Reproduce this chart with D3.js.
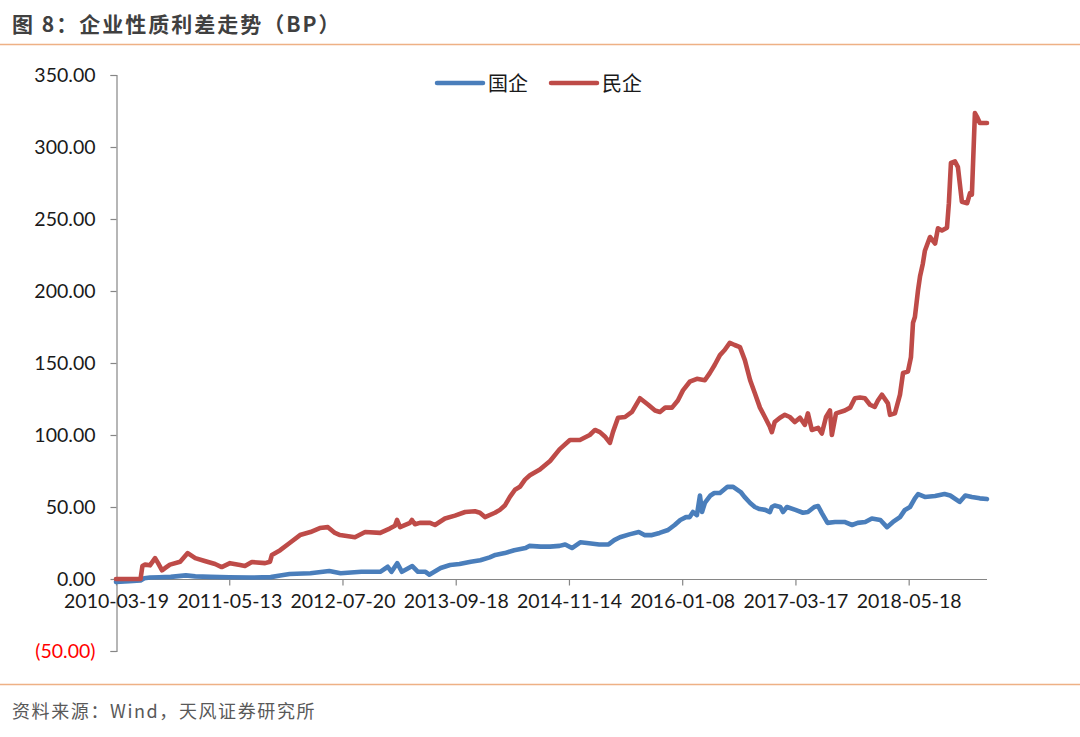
<!DOCTYPE html>
<html>
<head>
<meta charset="utf-8">
<script src="https://cdn.jsdelivr.net/npm/d3@7/dist/d3.min.js"></script>
<style>
  html, body { margin: 0; padding: 0; background: #fff; }
  svg { display: block; }
</style>
</head>
<body>
<svg id="chart" width="1080" height="737"></svg>
<script>
// ---- Data (week index along category axis, spread in BP) ----
const tickLabels = ["2010-03-19","2011-05-13","2012-07-20","2013-09-18","2014-11-14","2016-01-08","2017-03-17","2018-05-18"];
const tickWeeks  = [0, 60, 120, 180, 240, 300, 360, 420];
const lastWeek = 461.5;

const seriesNames = ["国企", "民企"];

const soeWeeks = [0,7,13,15,18,23,29,37,42,50,60,71,82,87,92,103,113,119,130,140,144,146,149,151.5,157,160,164,166,172,177,182,188,193,198,201,206,211,217,219,225,230,235,238,241.6,246,249.5,256,261,264,267,272,277,280,284,288,292.5,296,299,302,304,305.7,307.8,309.4,310.5,312,315,317,320,324,327,331,333,336,338.5,341,344,346.5,347.5,349,352,353.4,355.5,360,364,366.6,370,372,374,377,381,386,390,393,397,400.5,405,408.5,411.7,415.4,418,420.7,423.3,425,428.6,434,439,442,447,450,453.5,457.7,461.5];
const soeValues = [-2,-1.5,-1,0.5,1,1.2,1.5,2.5,1.8,1.5,1.2,1,1.3,2.5,3.5,4,5.5,4,5,5,8.5,5,11,5,9,5,5,3,7.6,9.7,10.4,12,13,15,16.7,18,20,21.5,23,22.5,22.5,23,24,21.5,25.5,25,24,24,27,29,31,32.6,30.5,30.5,32,34,37.5,41,43,43,46.5,44.4,58,46.5,52.8,58,59.7,59.7,64,64,60.4,57,52.8,50,48.6,48,46.5,50,51,50,46.5,50,48,46,46.5,50,50.7,45.8,39,39.6,39.6,37.5,39,39.6,42,41,36,39.6,43,48,50,56,59,57,57.6,59,58,53.5,58,57,56,55.5];

const poeWeeks = [0,13,14,15.4,18,20.7,22.3,24.4,26.5,28.6,34,38,42,47,52.5,56,60.4,65.7,68.3,72,79,81.6,82.6,87,92,97.5,103,108,112.3,116,118.7,126.6,132,140,145,147.8,148.9,150.5,155.8,156.8,158.4,161,166.4,169,174.3,179.6,185,190.2,192.8,195.5,200.8,203.4,206,208.7,211.4,214,216.7,219.3,224.6,230,235,240.5,245.8,251,253.8,256.4,259,261.7,263.3,266,269.7,273.4,277.6,282,285.6,288.2,291,294.6,297.7,300.4,304,307.8,312,314.6,317.2,320,322.5,325.2,327.8,330.6,333.2,336,338.5,341.2,343.8,346.5,347.5,349,351.8,354.4,357,359.7,362.4,365,366.6,368.7,372,374,376.2,378.3,379.3,381.5,386.2,389,391.5,394.2,396.8,399.5,402,403.7,405.8,409,410.1,412.7,415.4,417,419.6,421.2,422.3,423.3,425,426,427.5,428.6,431.3,434,435.5,437.6,440.3,441.3,442.4,444.5,446.1,448.2,451,452.5,453.5,455.1,456.2,457.7,461.5];
const poeValues = [0,0,9,10,9.5,14.5,11,6,8,10,12,18,14.5,12.5,10.4,8.3,11,9.7,9,11.8,11,12,16.7,20,25,30.5,32.6,35.4,36,32,30.5,29,32.6,32,35,37,41,36,39,41,38,39,39,37.5,42,44,46.5,47,46,43,46,48,51,57,62,64,69,72,76,82,90,96.5,96.5,100,103.5,102,99,94.5,102,112,112.5,116,125.5,121,117,116,119,119,124,131,137,139,138,143,148.6,155.5,159,164,162.5,161,152,138,129,119,112.5,105.5,102,109,112,114,112.5,109,112,107,115,103.5,105,101,112.5,117,100,115,117,119,125.5,126,125.5,121,119.5,124,128,122,114,115,128,143,144,154,178,182,201,210,219,228,237.5,233,243.5,242,244,261,289,290,286,262,261,268,267,323.6,321,316.7,316.7];

const yTicks = [-50, 0, 50, 100, 150, 200, 250, 300, 350];
const colors = ["#4a7ebb", "#be4b48"];

// ---- Layout ----
const svg = d3.select("#chart");
const x = d3.scaleLinear().domain([0, lastWeek]).range([116, 987]);
const y = d3.scaleLinear().domain([-50, 350]).range([651, 75]);
const axisColor = "#868686";
const tickFont = "Lato, 'Open Sans', sans-serif";

// Title
svg.append("text")
  .attr("x", 12).attr("y", 32)
  .attr("font-family", "'Noto Sans CJK SC', sans-serif")
  .attr("font-weight", "bold").attr("font-size", 21)
  .attr("letter-spacing", 2)
  .attr("fill", "#404040")
  .text("图 8：企业性质利差走势（BP）");
svg.append("line").attr("x1", 0).attr("x2", 1080).attr("y1", 44.5).attr("y2", 44.5)
  .attr("stroke", "#eeb185").attr("stroke-width", 1.5);

// Footer
svg.append("line").attr("x1", 0).attr("x2", 1080).attr("y1", 684.5).attr("y2", 684.5)
  .attr("stroke", "#eeb185").attr("stroke-width", 1.5);
svg.append("text")
  .attr("x", 12).attr("y", 718)
  .attr("font-family", "'Noto Sans CJK SC', sans-serif")
  .attr("font-size", 18).attr("fill", "#595959")
  .attr("letter-spacing", 1.6)
  .text("资料来源：Wind，天风证券研究所");

// Y axis
const yAxis = d3.axisLeft(y).tickValues(yTicks).tickSize(6).tickPadding(15)
  .tickFormat(d => d < 0 ? "(" + d3.format(".2f")(-d) + ")" : d3.format(".2f")(d));
const gy = svg.append("g").attr("transform", "translate(116.5,0)").call(yAxis);
gy.select(".domain").attr("stroke", axisColor).attr("stroke-width", 1.2);
gy.selectAll(".tick line").attr("stroke", axisColor).attr("stroke-width", 1.2);
gy.selectAll(".tick text")
  .attr("font-family", tickFont).attr("font-size", 19.5)
  .attr("fill", d => d < 0 ? "#ff0000" : "#1a1a1a");

// X axis at zero
const xAxis = d3.axisBottom(x).tickValues(tickWeeks).tickSize(6).tickPadding(9)
  .tickFormat((d, i) => tickLabels[i]);
const gx = svg.append("g").attr("transform", `translate(0,${y(0) + 0.5})`).call(xAxis);
gx.select(".domain").attr("stroke", axisColor).attr("stroke-width", 1.2)
  .attr("d", `M${x(0)},0H${x(lastWeek)}`);
gx.selectAll(".tick line").attr("stroke", axisColor).attr("stroke-width", 1.2);
gx.selectAll(".tick text")
  .attr("font-family", tickFont).attr("font-size", 19.5).attr("fill", "#1a1a1a");

// Lines
const line = d3.line().x(d => x(d[0])).y(d => y(d[1]));
const soe = soeWeeks.map((w, i) => [w, soeValues[i]]);
const poe = poeWeeks.map((w, i) => [w, poeValues[i]]);
[soe, poe].forEach((data, k) => {
  svg.append("path").datum(data)
    .attr("d", line)
    .attr("fill", "none")
    .attr("stroke", colors[k])
    .attr("stroke-width", 4.6)
    .attr("stroke-linejoin", "round")
    .attr("stroke-linecap", "round");
});

// Legend
const legend = svg.append("g");
const legendX = [437, 551];
seriesNames.forEach((name, k) => {
  legend.append("line")
    .attr("x1", legendX[k]).attr("x2", legendX[k] + 46)
    .attr("y1", 83).attr("y2", 83)
    .attr("stroke", colors[k]).attr("stroke-width", 4.5).attr("stroke-linecap", "round");
  legend.append("text")
    .attr("x", legendX[k] + 51).attr("y", 90.5)
    .attr("font-family", "'Noto Sans CJK SC', sans-serif")
    .attr("font-size", 20).attr("fill", "#1a1a1a")
    .text(name);
});
</script>
</body>
</html>
